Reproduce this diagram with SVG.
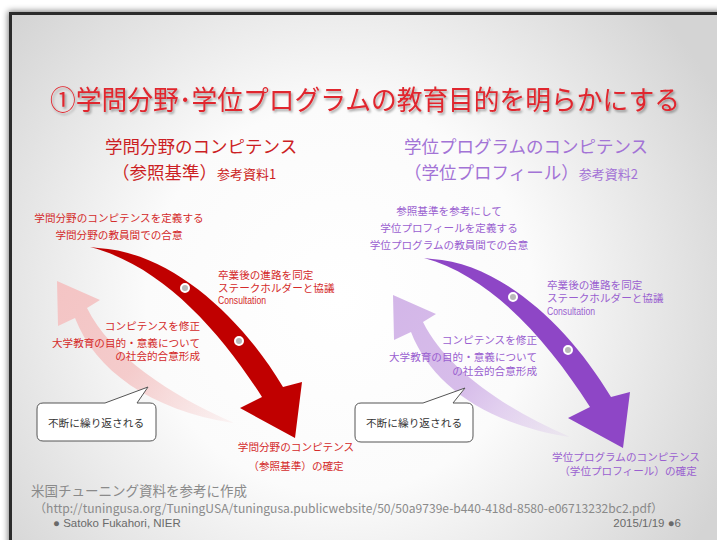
<svg xmlns="http://www.w3.org/2000/svg" width="717" height="540" viewBox="0 0 717 540">
<defs>
<radialGradient id="bg" cx="340" cy="300" r="430" gradientUnits="userSpaceOnUse">
<stop offset="0" stop-color="#ffffff"/>
<stop offset="0.45" stop-color="#fbfbfb"/>
<stop offset="1" stop-color="#d4d4d4"/>
</radialGradient>
<linearGradient id="pinkG" x1="233" y1="423" x2="57" y2="281" gradientUnits="userSpaceOnUse">
<stop offset="0" stop-color="#f4c4c4" stop-opacity="0.15"/>
<stop offset="0.5" stop-color="#f4c4c4" stop-opacity="0.85"/>
<stop offset="1" stop-color="#f4c4c4"/>
</linearGradient>
<linearGradient id="lavG" x1="233" y1="423" x2="57" y2="281" gradientUnits="userSpaceOnUse">
<stop offset="0" stop-color="#d3b6e8" stop-opacity="0.15"/>
<stop offset="0.5" stop-color="#d3b6e8" stop-opacity="0.9"/>
<stop offset="1" stop-color="#d3b6e8"/>
</linearGradient>
<filter id="shadow" x="-10%" y="-10%" width="120%" height="120%">
<feGaussianBlur stdDeviation="3"/>
</filter>
<filter id="tshadow" x="-5%" y="-30%" width="110%" height="160%">
<feDropShadow dx="1.5" dy="2" stdDeviation="1.2" flood-color="#000" flood-opacity="0.35"/>
</filter>
</defs>
<style>
text{font-family:"Noto Sans CJK JP","Noto Sans",sans-serif;}
.red{fill:#d42a2a;font-size:10.6px;}
.pur{fill:#9a5fd0;font-size:10.6px;}
.lat{font-family:"Liberation Sans",Arial,sans-serif;}
.sub-r{fill:#cc1f24;font-size:17.5px;}
.sub-p{fill:#a373d6;font-size:17.5px;}
.bub{fill:#fff;stroke:#555;stroke-width:1;}
.bubt{fill:#333;font-size:10.7px;}
.dot{fill:#b8b8b8;stroke:#fff;stroke-width:2;}
.foot{fill:#8a8a8a;}
</style>

<rect width="717" height="540" fill="#ffffff"/>
<rect x="8" y="11" width="720" height="540" fill="#000" opacity="0.5" filter="url(#shadow)"/>
<rect x="10.5" y="13.5" width="720" height="540" fill="url(#bg)" stroke="#2b2b2b" stroke-width="3"/>

<g id="title">
<text x="50" y="110" font-size="27" fill="#e0262e" textLength="630" lengthAdjust="spacingAndGlyphs" filter="url(#tshadow)">①学問分野･学位プログラムの教育目的を明らかにする</text>
</g>

<g id="subtitle-left">
<text x="105" y="153" class="sub-r">学問分野のコンピテンス</text>
<text x="112" y="179" class="sub-r">（参照基準）<tspan font-size="13">参考資料1</tspan></text>
</g>
<g id="subtitle-right">
<text x="404" y="153" class="sub-p">学位プログラムのコンピテンス</text>
<text x="404" y="179" class="sub-p">（学位プロフィール）<tspan font-size="13">参考資料2</tspan></text>
</g>

<g id="connectors">
<g id="cycle-left">
<path d="M57,281 L100,300 L87,308 C110,355 170,395 232,422 L233,423 C150,410 95,370 75,318 L58,326 Z" fill="url(#pinkG)"/>
<path d="M90,247 L98,248 C170,252 240,315 283,387 L302,382 L295,438 L240,408 L262,397 C218,328 160,265 90,247 Z" fill="#c00000"/>
<circle class="dot" cx="185" cy="288" r="4"/>
<circle class="dot" cx="239" cy="341" r="4"/>
</g>
<g id="cycle-right">
<path transform="translate(336,14)" d="M57,281 L100,300 L87,308 C110,355 170,395 232,422 L233,423 C150,410 95,370 75,318 L58,326 Z" fill="url(#lavG)"/>
<path transform="translate(328,10)" d="M96,248 L104,249 C172,253 240,315 283,387 L302,382 L295,438 L240,408 L262,397 C218,328 162,266 96,248 Z" fill="#8e46c6"/>
<circle class="dot" cx="513" cy="297" r="4"/>
<circle class="dot" cx="568" cy="350" r="4"/>
</g>
</g>

<g id="left-top">
<text x="119" y="222" class="red" text-anchor="middle">学問分野のコンピテンスを定義する</text>
<text x="119" y="239" class="red" text-anchor="middle">学問分野の教員間での合意</text>
</g>
<g id="left-stake">
<text x="218" y="279" class="red">卒業後の進路を同定</text>
<text x="218" y="291.5" class="red">ステークホルダーと協議</text>
<text x="218" y="304" class="red lat" font-size="11.5" textLength="48" lengthAdjust="spacingAndGlyphs">Consultation</text>
</g>
<g id="left-revise">
<text x="200" y="330" class="red" text-anchor="end">コンピテンスを修正</text>
<text x="200" y="347" class="red" text-anchor="end">大学教育の目的・意義について</text>
<text x="200" y="359.5" class="red" text-anchor="end">の社会的合意形成</text>
</g>
<g id="left-bottom">
<text x="296" y="451" class="red" text-anchor="middle">学問分野のコンピテンス</text>
<text x="296" y="470" class="red" text-anchor="middle">（参照基準）の確定</text>
</g>
<g id="left-bubble">
<path class="bub" d="M43,403 L105,403 L148,387 L137,403 L150,403 Q156,403 156,409 L156,435 Q156,441 150,441 L43,441 Q37,441 37,435 L37,409 Q37,403 43,403 Z"/>
<text x="96" y="427" class="bubt" text-anchor="middle">不断に繰り返される</text>
</g>

<g id="right-top">
<text x="449" y="215" class="pur" text-anchor="middle">参照基準を参考にして</text>
<text x="449" y="232" class="pur" text-anchor="middle">学位プロフィールを定義する</text>
<text x="449" y="249" class="pur" text-anchor="middle">学位プログラムの教員間での合意</text>
</g>
<g id="right-stake">
<text x="547" y="289" class="pur">卒業後の進路を同定</text>
<text x="547" y="302" class="pur">ステークホルダーと協議</text>
<text x="547" y="314.5" class="pur lat" font-size="11.5" textLength="48" lengthAdjust="spacingAndGlyphs">Consultation</text>
</g>
<g id="right-revise">
<text x="537" y="344" class="pur" text-anchor="end">コンピテンスを修正</text>
<text x="537" y="361" class="pur" text-anchor="end">大学教育の目的・意義について</text>
<text x="537" y="375" class="pur" text-anchor="end">の社会的合意形成</text>
</g>
<g id="right-bottom">
<text x="626" y="461" class="pur" text-anchor="middle">学位プログラムのコンピテンス</text>
<text x="628" y="475" class="pur" text-anchor="middle">（学位プロフィール）の確定</text>
</g>
<g id="right-bubble">
<path class="bub" d="M361,403 L423,403 L465,388 L453,403 L467,403 Q473,403 473,409 L473,436 Q473,442 467,442 L361,442 Q355,442 355,436 L355,409 Q355,403 361,403 Z"/>
<text x="414" y="427" class="bubt" text-anchor="middle">不断に繰り返される</text>
</g>

<g id="footer">
<text x="31" y="496" class="foot" font-size="13.5">米国チューニング資料を参考に作成</text>
<text x="34" y="513" class="foot" font-size="12" textLength="629" lengthAdjust="spacingAndGlyphs">（http://tuningusa.org/TuningUSA/tuningusa.publicwebsite/50/50a9739e-b440-418d-8580-e06713232bc2.pdf）</text>
<text x="53" y="527" fill="#6a6a6a" font-size="11.5" class="lat">● Satoko Fukahori, NIER</text>
<text x="681" y="527" fill="#6a6a6a" font-size="11.5" class="lat" text-anchor="end">2015/1/19 ●6</text>
</g>
</svg>
